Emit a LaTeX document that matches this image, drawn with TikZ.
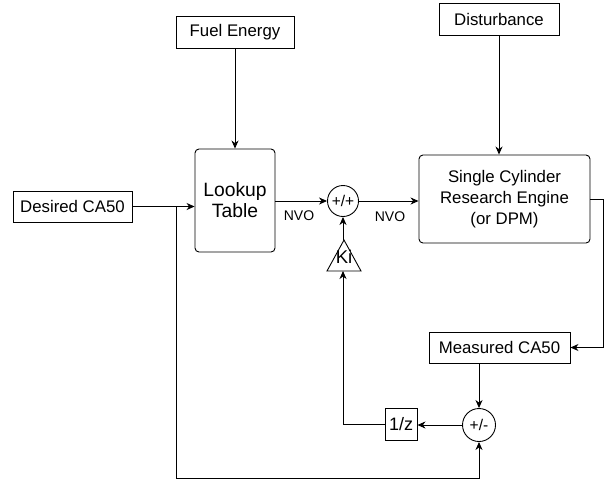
\documentclass[tikz,border=0pt]{standalone}
\usepackage{fontspec}
\setmainfont{Liberation Sans}
\usetikzlibrary{arrows.meta}
\begin{document}
\begin{tikzpicture}[x=1pt,y=-1pt,
  every node/.style={font=\fontsize{16.8}{21}\selectfont, inner sep=0pt},
  blk/.style={draw, line width=0.9pt, align=center},
  rblk/.style={blk, rounded corners=4pt},
  summ/.style={draw, circle, line width=0.9pt, minimum size=31pt, font=\fontsize{15.5}{17}\selectfont},
  lbl/.style={font=\fontsize{14}{16}\selectfont},
  conn/.style={line width=0.9pt, -{Stealth[length=8pt,width=7pt,inset=2.5pt]}},
  wire/.style={line width=0.9pt}]
\useasboundingbox (0,0) rectangle (607,483);
\node[blk, minimum width=118pt, minimum height=32pt] (fuel) at (235,32) {Fuel Energy};
\node[blk, minimum width=120pt, minimum height=32pt] (dist) at (499,19) {Disturbance};
\node[blk, minimum width=119pt, minimum height=31pt] (desired) at (72.5,206.5) {Desired CA50};
\node[rblk, minimum width=80pt, minimum height=103pt, font=\fontsize{19.3}{21}\selectfont] (lookup) at (235,200.5) {Lookup\\Table};
\node[summ] (sum1) at (343,201) {+/+};
\node[rblk, minimum width=171pt, minimum height=88pt] (engine) at (504.5,199) {Single Cylinder\\Research Engine\\(or DPM)};
\draw[wire] (327,271) -- (344,240) -- (361,271) -- cycle;
\coordinate (kitop) at (343,240);
\coordinate (kibot) at (343,271);
\node[font=\fontsize{18.5}{20}\selectfont] (ki) at (344,257) {Ki};
\node[blk, minimum width=141pt, minimum height=31pt] (meas) at (499.5,347.5) {Measured CA50};
\node[summ, minimum size=33pt] (sum2) at (479,425) {+/-};
\node[blk, minimum width=32pt, minimum height=32pt, font=\fontsize{18}{20}\selectfont] (delay) at (401,424) {1/z};
\node[lbl] (nvo1) at (299,216) {NVO};
\node[lbl] (nvo2) at (390,217) {NVO};
% connectors
\draw[conn] (fuel.south) -- (lookup.north);
\draw[conn] (dist.south) -- (dist.south |- engine.north);
\draw[conn] (desired.east) -- (desired.east -| lookup.west);
\draw[conn] (lookup.east |- sum1.west) -- (sum1.west);
\draw[conn] (sum1.east) -- (sum1.east -| engine.west);
\coordinate (eo) at (603,199);
\draw[conn] (engine.east) -- (eo) -- (eo |- meas.east) -- (meas.east);
\draw[conn] (meas.south -| sum2.north) -- (sum2.north);
\draw[conn] (sum2.west) -- (sum2.west -| delay.east);
\coordinate (dl) at (343,424);
\draw[conn] (delay.west) -- (dl) -- (kibot);
\draw[conn] (kitop) -- (sum1.south);
\coordinate (fb) at (176,207);
\coordinate (fbb) at (176,478);
\draw[conn] (fb) -- (fbb) -- (fbb -| sum2.south) -- (sum2.south);
\end{tikzpicture}
\end{document}
